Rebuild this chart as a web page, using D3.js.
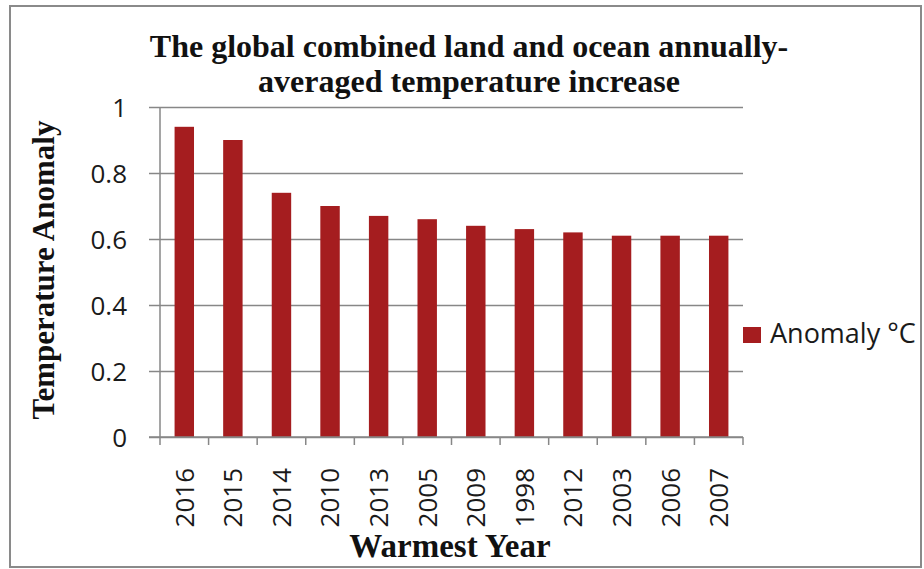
<!DOCTYPE html>
<html>
<head>
<meta charset="utf-8">
<script src="https://cdn.jsdelivr.net/npm/d3@7"></script>
<style>
  body { margin: 0; background: #fff; }
  svg { display: block; }
</style>
</head>
<body>
<svg id="chart" width="924" height="569"></svg>
<script>
// data
var years = ["2016", "2015", "2014", "2010", "2013", "2005", "2009", "1998", "2012", "2003", "2006", "2007"];
var anomaly = [0.94, 0.90, 0.74, 0.70, 0.67, 0.66, 0.64, 0.63, 0.62, 0.61, 0.61, 0.61];
var yTicks = [0, 0.2, 0.4, 0.6, 0.8, 1];
var titleLines = ["The global combined land and ocean annually-", "averaged temperature increase"];
var seriesName = "Anomaly °C";

var svg = d3.select("svg#chart"),
    width = +svg.attr("width"),
    height = +svg.attr("height");

var plotLeft = 160, plotRight = 743, plotTop = 107, plotBottom = 437;
var barColor = "#a51d1f", gridColor = "#878787";
var sans = "'Open Sans', 'Liberation Sans', sans-serif";
var serif = "'Liberation Serif', 'DejaVu Serif', serif";

// outer frame
svg.append("rect")
    .attr("x", 10).attr("y", 6)
    .attr("width", 911).attr("height", 561)
    .attr("fill", "none")
    .attr("stroke", "#8a8a8a")
    .attr("stroke-width", 2);

var x = d3.scaleBand()
    .domain(years)
    .range([plotLeft, plotRight])
    .paddingInner(0.6)
    .paddingOuter(0.3);

var y = d3.scaleLinear()
    .domain([0, 1])
    .range([plotBottom, plotTop]);

// gridlines + y labels
var yAxis = svg.append("g")
    .attr("transform", "translate(" + plotLeft + ",0)")
    .call(d3.axisLeft(y).tickValues(yTicks).tickSize(-(plotRight - plotLeft)).tickPadding(33).tickFormat(d3.format("")));
yAxis.select(".domain").remove();
yAxis.selectAll(".tick line")
    .attr("x1", -11)
    .attr("stroke", gridColor)
    .attr("stroke-width", 1.5);
yAxis.selectAll(".tick text")
    .attr("font-family", sans)
    .attr("font-size", 26)
    .attr("fill", "#1a1a1a")
    .attr("dy", "0.36em");

// y axis line
svg.append("line")
    .attr("x1", plotLeft).attr("x2", plotLeft)
    .attr("y1", plotTop).attr("y2", plotBottom)
    .attr("stroke", gridColor)
    .attr("stroke-width", 1.5);

// bars
svg.selectAll(".bar")
    .data(anomaly)
    .enter().append("rect")
      .attr("class", "bar")
      .attr("x", function(d, i) { return x(years[i]); })
      .attr("y", function(d) { return y(d); })
      .attr("width", x.bandwidth())
      .attr("height", function(d) { return y(0) - y(d); })
      .attr("fill", barColor);

// x axis with ticks at category boundaries
var xg = svg.append("g")
    .attr("transform", "translate(0," + plotBottom + ")");
xg.append("line")
    .attr("x1", plotLeft - 11).attr("x2", plotRight)
    .attr("stroke", gridColor)
    .attr("stroke-width", 1.5);
var bounds = d3.range(years.length + 1).map(function(i) { return plotLeft + i * (plotRight - plotLeft) / years.length; });
xg.selectAll(".xtick")
    .data(bounds)
    .enter().append("line")
      .attr("x1", function(d) { return d; })
      .attr("x2", function(d) { return d; })
      .attr("y1", 0).attr("y2", 8)
      .attr("stroke", gridColor)
      .attr("stroke-width", 1.5);
xg.selectAll(".xlabel")
    .data(years)
    .enter().append("text")
      .attr("transform", function(d) { return "translate(" + (x(d) + x.bandwidth() / 2) + ",31) rotate(-90)"; })
      .attr("text-anchor", "end")
      .attr("dy", "0.36em")
      .attr("font-family", sans)
      .attr("font-size", 26)
      .attr("fill", "#1a1a1a")
      .text(function(d) { return d; });

// title
svg.append("text")
    .attr("text-anchor", "middle")
    .attr("font-family", serif)
    .attr("font-weight", "bold")
    .attr("font-size", 32)
    .attr("fill", "#111")
  .selectAll("tspan")
  .data(titleLines)
  .enter().append("tspan")
    .attr("x", 469)
    .attr("y", function(d, i) { return 57 + i * 35; })
    .text(function(d) { return d; });

// axis titles
svg.append("text")
    .attr("transform", "translate(54,270) rotate(-90)")
    .attr("text-anchor", "middle")
    .attr("font-family", serif)
    .attr("font-weight", "bold")
    .attr("font-size", 31)
    .attr("fill", "#111")
    .text("Temperature Anomaly");

svg.append("text")
    .attr("x", 450).attr("y", 557)
    .attr("text-anchor", "middle")
    .attr("font-family", serif)
    .attr("font-weight", "bold")
    .attr("font-size", 33)
    .attr("fill", "#111")
    .text("Warmest Year");

// legend
var legend = svg.append("g").attr("transform", "translate(743,327)");
legend.append("rect")
    .attr("width", 18).attr("height", 16)
    .attr("fill", barColor);
legend.append("text")
    .attr("x", 27).attr("y", 16)
    .attr("font-family", sans)
    .attr("font-size", 27)
    .attr("fill", "#1a1a1a")
    .text(seriesName);
</script>
</body>
</html>
